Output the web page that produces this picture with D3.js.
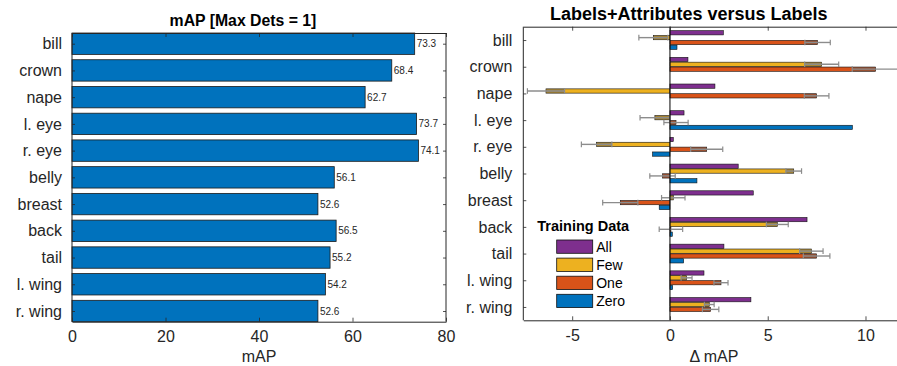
<!DOCTYPE html>
<html><head><meta charset="utf-8">
<script src="https://cdn.jsdelivr.net/npm/d3@7"></script>
<style>
body{margin:0;background:#fff;}
svg{display:block;font-family:"Liberation Sans",Arial,Helvetica,sans-serif;}
</style></head>
<body>
<svg id="chart" width="897" height="366"></svg>
<script>
// ---------- data ----------
const categories = ["bill","crown","nape","l. eye","r. eye","belly","breast","back","tail","l. wing","r. wing"];
const mapValues  = [73.3,68.4,62.7,73.7,74.1,56.1,52.6,56.5,55.2,54.2,52.6];
const seriesNames = ["All","Few","One","Zero"];
const deltaAll  = [2.73,0.92,2.30,0.72,0.17,3.49,4.26,7.01,2.76,1.74,4.14];
const deltaFew  = [-0.85,7.76,-6.34,-0.77,-3.75,6.33,0.17,5.49,7.23,0.85,2.01];
const deltaOne  = [7.55,10.52,7.50,0.31,1.88,-0.38,-2.54,0.05,7.50,2.61,2.08];
const deltaZero = [0.36,0.00,0.00,9.33,-0.89,1.38,-0.55,0.12,0.70,0.14,0.00];
const errFew    = [0.74,0.87,0.95,0.76,0.78,0.40,0.60,0.56,0.60,0.28,0.25];
const errOne    = [0.65,1.20,0.63,0.62,0.82,0.65,0.90,0.60,0.68,0.36,0.42];
const leftTicks  = [0,20,40,60,80];
const rightTicks = [-5,0,5,10];
const leftTitle = "mAP [Max Dets = 1]";
const rightTitle = "Labels+Attributes versus Labels";
const leftXLabel = "mAP";
const rightXLabel = "\u0394 mAP";
const legendTitle = "Training Data";

// ---------- styles ----------
const AX = "#262626";
const colors = {All:"#7E2F8E", Few:"#EDB120", One:"#D95319", Zero:"#0072BD"};
const svg = d3.select("#chart");

function styleAxis(g){
  g.selectAll("path.domain").attr("stroke",AX).attr("stroke-width",1);
  g.selectAll(".tick line").attr("stroke",AX).attr("stroke-width",0.8);
  g.selectAll(".tick text").attr("fill",AX).attr("font-size",16).attr("font-family",'"Liberation Sans",Arial,sans-serif');
}

// ---------- left chart ----------
const L = {x0:72, x1:446, y0:33, y1:321.7};
const xL = d3.scaleLinear().domain([0,80]).range([L.x0,L.x1]);
const yL = d3.scaleBand().domain(categories).range([L.y0,L.y1]).paddingInner(0.2).paddingOuter(0);

const gl = svg.append("g");
gl.selectAll("rect.bar").data(categories).join("rect")
  .attr("x", xL(0))
  .attr("y", d=>yL(d))
  .attr("width", (d,i)=>xL(mapValues[i])-xL(0))
  .attr("height", yL.bandwidth())
  .attr("fill", colors.Zero).attr("stroke","#1a1a1a").attr("stroke-width",0.8);
gl.selectAll("text.val").data(categories).join("text")
  .attr("x",(d,i)=>xL(mapValues[i])+2)
  .attr("y",d=>yL(d)+yL.bandwidth()/2)
  .attr("dy","0.35em").attr("font-size",10).attr("fill",AX)
  .text((d,i)=>mapValues[i].toFixed(1));

const yLc = d3.scalePoint().domain(categories).range([L.y0+yL.bandwidth()/2, L.y1-yL.bandwidth()/2]);
gl.append("g").attr("transform",`translate(0,${L.y1})`)
  .call(d3.axisBottom(xL).tickValues(leftTicks).tickFormat(d=>String(d)).tickSizeInner(-4).tickSizeOuter(0).tickPadding(9))
  .call(styleAxis);
gl.append("g").attr("transform",`translate(0,${L.y0})`)
  .call(d3.axisTop(xL).tickValues(leftTicks).tickFormat("").tickSizeInner(-4).tickSizeOuter(0))
  .call(styleAxis);
gl.append("g").attr("transform",`translate(${L.x0},0)`)
  .call(d3.axisLeft(yLc).tickSizeInner(-3).tickSizeOuter(0).tickPadding(10))
  .call(g=>g.select("path.domain").attr("d",`M0,${L.y0}V${L.y1}`))
  .call(styleAxis);
gl.append("g").attr("transform",`translate(${L.x1},0)`)
  .call(d3.axisRight(yLc).tickFormat("").tickSizeInner(-3).tickSizeOuter(0))
  .call(g=>g.select("path.domain").attr("d",`M0,${L.y0}V${L.y1}`))
  .call(styleAxis);
gl.append("text").attr("x",243).attr("y",26).attr("text-anchor","middle")
  .attr("font-weight","bold").attr("font-size",15.8).attr("fill","#000").text(leftTitle);
gl.append("text").attr("x",(L.x0+L.x1)/2).attr("y",362).attr("text-anchor","middle")
  .attr("font-size",16).attr("fill",AX).text(leftXLabel);

// ---------- right chart ----------
const R = {x0:523.3, x1:904.6, y0:26.7, y1:320.3};
const xR = d3.scaleLinear().domain([-7.5,12]).range([R.x0,R.x1]);
const yR = d3.scaleBand().domain(categories).range([R.y0,R.y1]).padding(0);
const step = yR.bandwidth();
const inner = d3.scaleBand().domain(seriesNames)
  .range([step/2-0.36*step, step/2+0.36*step]).paddingInner(0.12).paddingOuter(0.04);

const seriesVals = {All:deltaAll, Few:deltaFew, One:deltaOne, Zero:deltaZero};
const seriesErr = {Few:errFew, One:errOne};
const barData = [];
seriesNames.forEach(s=>categories.forEach((c,i)=>barData.push({s,c,i,v:seriesVals[s][i],e:seriesErr[s]?seriesErr[s][i]:null})));

const gr = svg.append("g");
// bars
gr.selectAll("rect.rbar").data(barData).join("rect")
  .attr("x",d=>xR(Math.min(0,d.v)))
  .attr("y",d=>yR(d.c)+inner(d.s))
  .attr("width",d=>Math.abs(xR(d.v)-xR(0)))
  .attr("height",inner.bandwidth())
  .attr("fill",d=>colors[d.s]).attr("stroke","#111").attr("stroke-width",0.6);

// error bars (Few & One)
const errData = barData.filter(d=>d.e!==null);
gr.selectAll("rect.eshade").data(errData).join("rect")
  .each(function(d){
    const lo = Math.max(Math.min(0,d.v), d.v-d.e);
    const hi = Math.min(Math.max(0,d.v), d.v+d.e);
    d3.select(this).attr("x",xR(lo)).attr("width",Math.max(0,xR(hi)-xR(lo)));
  })
  .attr("y",d=>yR(d.c)+inner(d.s))
  .attr("height",inner.bandwidth())
  .attr("fill","#505050").attr("fill-opacity",0.45);
const eg = gr.selectAll("g.err").data(errData).join("g")
  .attr("transform",d=>`translate(0,${yR(d.c)+inner(d.s)+inner.bandwidth()/2})`);
eg.append("line").attr("x1",d=>xR(d.v-d.e)).attr("x2",d=>xR(d.v+d.e)).attr("y1",0).attr("y2",0)
  .attr("stroke","#8c8c8c").attr("stroke-width",1.4);
eg.append("line").attr("x1",d=>xR(d.v-d.e)).attr("x2",d=>xR(d.v-d.e)).attr("y1",-2.8).attr("y2",2.8)
  .attr("stroke","#8c8c8c").attr("stroke-width",1.2);
eg.append("line").attr("x1",d=>xR(d.v+d.e)).attr("x2",d=>xR(d.v+d.e)).attr("y1",-2.8).attr("y2",2.8)
  .attr("stroke","#8c8c8c").attr("stroke-width",1.2);

// zero baseline
gr.append("line").attr("x1",xR(0)).attr("x2",xR(0)).attr("y1",R.y0).attr("y2",R.y1)
  .attr("stroke","#000").attr("stroke-width",1);

const yRc = d3.scalePoint().domain(categories).range([R.y0+step/2, R.y1-step/2]);
gr.append("g").attr("transform",`translate(0,${R.y1})`)
  .call(d3.axisBottom(xR).tickValues(rightTicks).tickFormat(d=>String(d)).tickSizeInner(-4).tickSizeOuter(0).tickPadding(9))
  .call(styleAxis);
gr.append("g").attr("transform",`translate(0,${R.y0})`)
  .call(d3.axisTop(xR).tickValues(rightTicks).tickFormat("").tickSizeInner(-4).tickSizeOuter(0))
  .call(styleAxis);
gr.append("g").attr("transform",`translate(${R.x0},0)`)
  .call(d3.axisLeft(yRc).tickSizeInner(-3).tickSizeOuter(0).tickPadding(11))
  .call(g=>g.select("path.domain").attr("d",`M0,${R.y0}V${R.y1}`))
  .call(styleAxis);
gr.append("text").attr("x",688.7).attr("y",20).attr("text-anchor","middle")
  .attr("font-weight","bold").attr("font-size",18).attr("fill","#000").text(rightTitle);
gr.append("text").attr("x",(R.x0+R.x1)/2).attr("y",362).attr("text-anchor","middle")
  .attr("font-size",16).attr("fill",AX).text(rightXLabel);

// legend
const lg = gr.append("g");
lg.append("text").attr("x",537.3).attr("y",231).attr("font-weight","bold").attr("font-size",14.5)
  .attr("fill","#000").text(legendTitle);
const li = lg.selectAll("g.li").data(seriesNames).join("g")
  .attr("transform",(d,i)=>`translate(556.7,${240+i*18.1})`);
li.append("rect").attr("width",36).attr("height",13.3).attr("fill",d=>colors[d])
  .attr("stroke","#111").attr("stroke-width",0.8);
li.append("text").attr("x",39.5).attr("y",6.7).attr("dy","0.36em").attr("font-size",14)
  .attr("fill","#000").text(d=>d);
</script>
</body></html>
